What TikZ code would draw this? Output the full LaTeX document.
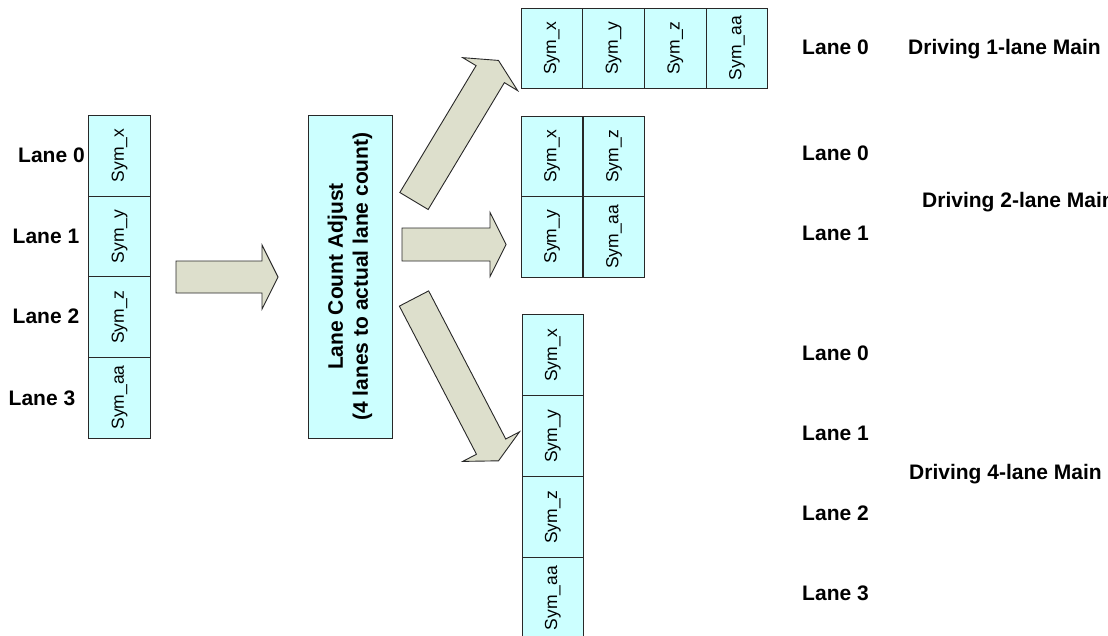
\documentclass[tikz,border=0pt]{standalone}
\usepackage{fontspec}
\setmainfont{Liberation Sans}
\definecolor{cellfill}{HTML}{CCFFFF}
\definecolor{arrowfill}{RGB}{221,223,204}
\definecolor{edgecol}{RGB}{40,40,40}
\tikzset{
  cell/.style={draw=edgecol, fill=cellfill, line width=1pt, inner sep=0pt,
    minimum width=61.5pt, minimum height=81pt, font=\fontsize{17.5}{20}\selectfont},
  bigbox/.style={draw=edgecol, fill=cellfill, line width=1pt, inner sep=0pt,
    minimum width=84pt, minimum height=323pt},
  boxtext/.style={rotate=90, align=center, inner sep=0pt, font=\fontsize{21}{25}\selectfont\bfseries},
  lanelbl/.style={inner sep=0pt, anchor=base, font=\fontsize{21}{25}\selectfont\bfseries},
  drivelbl/.style={lanelbl, anchor=base west},
  arrowbody/.style={draw=edgecol, fill=arrowfill, line width=0.9pt, line join=miter},
}
\newcommand\symtxt[1]{\rotatebox{90}{#1}}
% #1 start coordinate name, #2 rotation angle, #3 shaft length, #4 shaft half width
\newcommand\blockarrow[4]{%
  \begin{scope}[shift={(#1)}, rotate=#2]
    \draw[arrowbody] (0,#4) -- (#3,#4) -- (#3,32) -- (#3+16,0) -- (#3,-32)
      -- (#3,-#4) -- (0,-#4) -- cycle;
  \end{scope}}
\begin{document}
\begin{tikzpicture}[x=1pt, y=-1pt]
\useasboundingbox (0,0) rectangle (1108,635);
\fill[white] (0,0) rectangle (1108,635);
\clip (0,0) rectangle (1108,635);

% left input stack
\node[cell] (in0) at (119.5,155.5) {\symtxt{Sym\_x}};
\node[cell] (in1) at (119.5,236.5) {\symtxt{Sym\_y}};
\node[cell] (in2) at (119.5,317) {\symtxt{Sym\_z}};
\node[cell] (in3) at (119.5,397.5) {\symtxt{Sym\_aa}};
\node[lanelbl] (li0) at (51.5,162.5) {Lane 0};
\node[lanelbl] (li1) at (46,243.5) {Lane 1};
\node[lanelbl] (li2) at (46,323.5) {Lane 2};
\node[lanelbl] (li3) at (42,405) {Lane 3};

% central box
\node[bigbox] (adj) at (350,276.5) {};
\node[boxtext] (adjtxt) at (adj.center) {Lane Count Adjust\\(4 lanes to actual lane count)};

% block arrows
\coordinate (a0) at (176,277);
\coordinate (a1) at (414,201);
\coordinate (a2) at (402,244.5);
\coordinate (a3) at (414,298.5);
\blockarrow{a0}{0}{86}{16}
\blockarrow{a1}{59}{148}{16.5}
\blockarrow{a2}{0}{88}{16.5}
\blockarrow{a3}{-62.5}{167}{16.5}

% 1-lane output
\node[cell, minimum height=80pt] (p0) at (551.9,48) {\symtxt{Sym\_x}};
\node[cell, minimum height=80pt] (p1) at (613.6,48) {\symtxt{Sym\_y}};
\node[cell, minimum height=80pt] (p2) at (675.4,48) {\symtxt{Sym\_z}};
\node[cell, minimum height=80pt] (p3) at (737.1,48) {\symtxt{Sym\_aa}};
\node[lanelbl] (lo10) at (835.5,54.5) {Lane 0};
\node[drivelbl] (d1) at (908,54.5) {Driving 1-lane Main};

% 2-lane output
\node[cell, minimum height=80.5pt] (q0) at (552,156.25) {\symtxt{Sym\_x}};
\node[cell, minimum height=80.5pt] (q1) at (614,156.25) {\symtxt{Sym\_z}};
\node[cell, minimum height=80.5pt] (q2) at (552,236.75) {\symtxt{Sym\_y}};
\node[cell, minimum height=80.5pt] (q3) at (614,236.75) {\symtxt{Sym\_aa}};
\node[lanelbl] (lo20) at (835.5,160.5) {Lane 0};
\node[lanelbl] (lo21) at (835.5,240.5) {Lane 1};
\node[drivelbl] (d2) at (922,207.5) {Driving 2-lane Main};

% 4-lane output
\node[cell] (r0) at (552.75,355) {\symtxt{Sym\_x}};
\node[cell] (r1) at (552.75,436) {\symtxt{Sym\_y}};
\node[cell] (r2) at (552.75,517) {\symtxt{Sym\_z}};
\node[cell] (r3) at (552.75,598) {\symtxt{Sym\_aa}};
\node[lanelbl] (lo40) at (835.5,360.5) {Lane 0};
\node[lanelbl] (lo41) at (835.5,440.5) {Lane 1};
\node[lanelbl] (lo42) at (835.5,520.5) {Lane 2};
\node[lanelbl] (lo43) at (835.5,600.5) {Lane 3};
\node[drivelbl] (d4) at (909,479) {Driving 4-lane Main};
\end{tikzpicture}
\end{document}
